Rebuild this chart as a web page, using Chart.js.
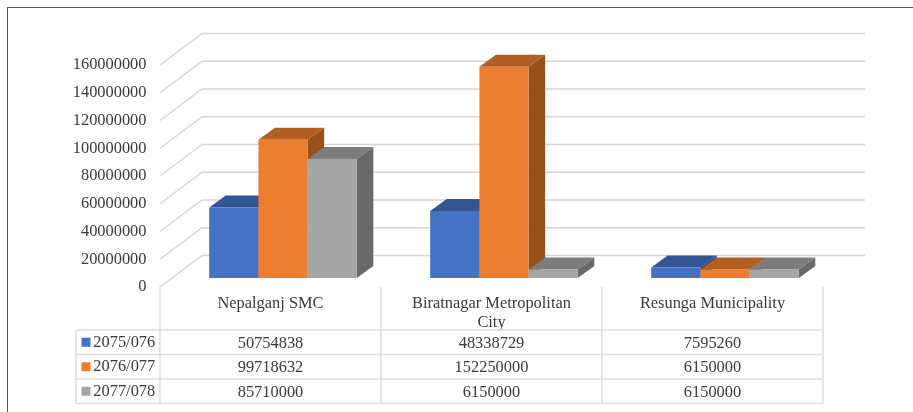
<!DOCTYPE html>
<html lang="en">
<head>
  <meta charset="UTF-8">
  <title>Budget by municipality</title>
  <script src="https://cdn.jsdelivr.net/npm/chart.js"></script>
  <style>
    html, body { margin: 0; padding: 0; background: #ffffff; overflow: hidden; }
    #frame { position: absolute; left: 7px; top: 7px; width: 906px; height: 405px; border-left: 1px solid #555555; border-top: 1px solid #555555; box-sizing: border-box; }
    #combinedChart { position: absolute; left: 0; top: 0; }
  </style>
</head>
<body>
  <div id="frame"></div>
  <canvas id="combinedChart" width="913" height="412"></canvas>

  <script>
    const categories = ['Nepalganj SMC', ['Biratnagar Metropolitan', 'City'], 'Resunga Municipality'];
    const years = ['2075/076', '2076/077', '2077/078'];
    const values2075 = [50754838, 48338729, 7595260];
    const values2076 = [99718632, 152250000, 6150000];
    const values2077 = [85710000, 6150000, 6150000];

    const fontFamily = "'Liberation Serif', serif";
    const textColor = '#3a3a3a';
    const gridColor = '#d6d6d6';
    const tableColor = '#dedede';

    // how far the back wall and the bar tops sit from the front plane
    const wall = { dx: 42, dy: -31.5 };
    const bar = { dx: 16.5, dy: -12, shiftX: 12.5, shiftY: -9 };

    const front = ['#4472c4', '#ed7d31', '#a5a5a5'];
    const top3d = ['#335593', '#b25e25', '#7c7c7c'];
    const side3d = ['#2c4a80', '#9a5019', '#696969'];

    const rowLines = [330, 354.5, 379, 403.5];

    function poly(ctx, pts, color) {
      ctx.fillStyle = color;
      ctx.beginPath();
      ctx.moveTo(pts[0][0], pts[0][1]);
      pts.slice(1).forEach(p => ctx.lineTo(p[0], p[1]));
      ctx.closePath();
      ctx.fill();
    }

    // Custom plugin: walls behind the bars, top and side faces, data table
    const box3dPlugin = {
      id: 'box3dPlugin',
      beforeDatasetsDraw: (chart) => {
        const ctx = chart.ctx;
        const y = chart.scales.y;
        const area = chart.chartArea;
        ctx.save();
        ctx.strokeStyle = gridColor;
        ctx.lineWidth = 1.5;
        y.ticks.forEach((tick) => {
          const py = y.getPixelForValue(tick.value);
          ctx.beginPath();
          ctx.moveTo(area.left, py);
          ctx.lineTo(area.left + wall.dx, py + wall.dy);
          ctx.lineTo(area.right + wall.dx, py + wall.dy);
          ctx.stroke();
        });
        ctx.restore();

        // the bars stand a little in front of the axis plane, and go left to
        // right so each box covers the side of the one before it
        ctx.save();
        ctx.translate(bar.shiftX, bar.shiftY);
        chart.data.datasets.forEach((ds, i) => {
          const meta = chart.getDatasetMeta(i);
          meta.data.forEach((el) => {
            const l = el.x - el.width / 2;
            const r = el.x + el.width / 2;
            poly(ctx, [[r, el.y], [r + bar.dx, el.y + bar.dy], [r + bar.dx, el.base + bar.dy], [r, el.base]], side3d[i]);
            poly(ctx, [[l, el.y], [l + bar.dx, el.y + bar.dy], [r + bar.dx, el.y + bar.dy], [r, el.y]], top3d[i]);
          });
          meta.controller.draw();
        });
        ctx.restore();
        return false;
      },
      afterDraw: (chart) => {
        const ctx = chart.ctx;
        const area = chart.chartArea;
        const x = chart.scales.x;
        const colWidth = (area.right - area.left) / categories.length;
        const legendLeft = 76;
        ctx.save();
        ctx.strokeStyle = tableColor;
        ctx.lineWidth = 1.5;
        rowLines.forEach((ry) => {
          ctx.beginPath();
          ctx.moveTo(legendLeft, ry);
          ctx.lineTo(area.right, ry);
          ctx.stroke();
        });
        for (let c = 0; c <= categories.length; c++) {
          const cx = area.left + c * colWidth;
          ctx.beginPath();
          ctx.moveTo(cx, area.bottom);
          ctx.lineTo(cx, rowLines[3]);
          ctx.stroke();
        }
        ctx.beginPath();
        ctx.moveTo(legendLeft, rowLines[0]);
        ctx.lineTo(legendLeft, rowLines[3]);
        ctx.stroke();

        ctx.font = '16.4px ' + fontFamily;
        ctx.fillStyle = textColor;
        ctx.textBaseline = 'middle';
        chart.data.datasets.forEach((ds, r) => {
          const midY = (rowLines[r] + rowLines[r + 1]) / 2;
          ctx.fillStyle = front[r];
          ctx.fillRect(81.5, midY - 4.5, 9, 9);
          ctx.fillStyle = textColor;
          ctx.textAlign = 'left';
          ctx.fillText(ds.label, 93.3, midY);
          ctx.textAlign = 'center';
          ds.data.forEach((v, c) => {
            ctx.fillText(String(v), x.getPixelForTick(c), midY + 1);
          });
        });
        ctx.restore();
      }
    };

    const combinedChart = new Chart(document.getElementById('combinedChart').getContext('2d'), {
      type: 'bar',
      data: {
        labels: categories,
        datasets: [
          { label: years[0], data: values2075, backgroundColor: front[0] },
          { label: years[1], data: values2076, backgroundColor: front[1] },
          { label: years[2], data: values2077, backgroundColor: front[2] }
        ]
      },
      options: {
        responsive: false,
        animation: false,
        devicePixelRatio: 1,
        layout: { padding: { top: 65, right: 90, left: 0, bottom: 0 } },
        datasets: { bar: { barPercentage: 1, categoryPercentage: 0.668 } },
        plugins: {
          legend: { display: false },
          title: { display: false },
          tooltip: { enabled: false }
        },
        scales: {
          x: {
            afterFit: (scale) => { scale.height = 125; },
            grid: { display: false, drawTicks: false },
            border: { display: false },
            ticks: {
              color: textColor,
              font: { family: fontFamily, size: 16.4, lineHeight: 1.2 },
              padding: 6.5,
              maxRotation: 0,
              minRotation: 0,
              autoSkip: false
            }
          },
          y: {
            min: 0,
            max: 160000000,
            afterFit: (scale) => { scale.width = 160; },
            grid: { display: false, drawTicks: false },
            border: { display: false },
            ticks: {
              stepSize: 20000000,
              color: textColor,
              font: { family: fontFamily, size: 16.4 },
              padding: 13.5,
              callback: (v) => String(v)
            }
          }
        }
      },
      plugins: [box3dPlugin]
    });
  </script>
</body>
</html>
